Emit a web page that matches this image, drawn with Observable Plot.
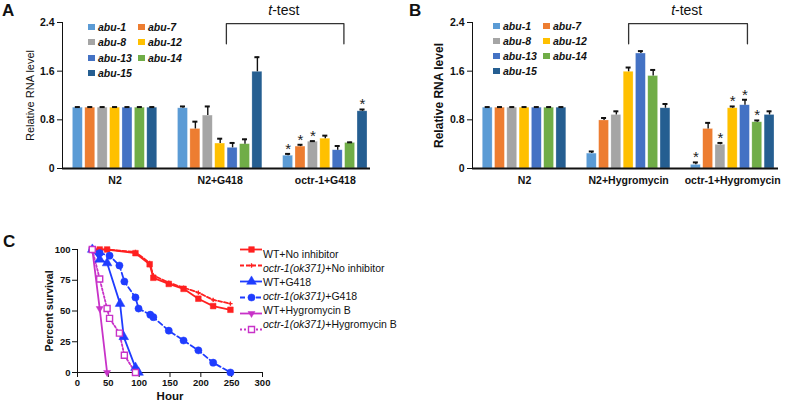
<!DOCTYPE html>
<html><head><meta charset="utf-8">
<script src="https://cdn.jsdelivr.net/npm/d3@7"></script>
<script src="https://cdn.jsdelivr.net/npm/@observablehq/plot@0.6"></script>
<style>
body{margin:0;background:#fff;}
#fig{position:relative;width:787px;height:413px;overflow:hidden;font-family:'Liberation Sans',Arial,Helvetica,sans-serif;color:#111;}
.abs{position:absolute;}
.letter{position:absolute;font-weight:bold;font-size:17px;line-height:1;}
.leg{position:absolute;font-weight:bold;font-style:italic;font-size:10.5px;white-space:nowrap;display:flex;align-items:center;height:15px;}
.sw{display:inline-block;width:7px;height:6px;margin-right:3px;}
.cleg{position:absolute;font-size:10.5px;line-height:14px;white-space:nowrap;}
svg{overflow:visible;}
</style></head>
<body><div id="fig"></div>
<script>
// ---------- data ----------
const genes = ["abu-1","abu-7","abu-8","abu-12","abu-13","abu-14","abu-15"];
const geneColors = ["#5B9BD5","#ED7D31","#A5A5A5","#FFC000","#4472C4","#70AD47","#255E91"];

const groupsA = ["N2","N2+G418","octr-1+G418"];
const levelsA_N2   = [1.00,1.00,1.00,1.00,1.00,1.00,1.00];
const errA_N2      = [0.01,0.01,0.01,0.01,0.01,0.01,0.01];
const levelsA_G418 = [0.99,0.65,0.87,0.41,0.34,0.40,1.59];
const errA_G418    = [0.03,0.12,0.15,0.08,0.08,0.08,0.24];
const levelsA_octr = [0.21,0.36,0.44,0.49,0.30,0.42,0.94];
const errA_octr    = [0.03,0.03,0.01,0.05,0.07,0.01,0.03];
const starsA_octr  = [1,1,1,0,0,0,1];

const groupsB = ["N2","N2+Hygromycin","octr-1+Hygromycin"];
const levelsB_N2   = [1.00,1.00,1.00,1.00,1.00,1.00,1.00];
const errB_N2      = [0.01,0.01,0.01,0.01,0.01,0.01,0.01];
const levelsB_Hyg  = [0.245,0.79,0.88,1.59,1.89,1.52,0.99];
const errB_Hyg     = [0.035,0.04,0.06,0.07,0.04,0.10,0.07];
const levelsB_octr = [0.06,0.65,0.39,0.99,1.04,0.76,0.88];
const errB_octr    = [0.04,0.10,0.03,0.03,0.09,0.03,0.06];
const starsB_octr  = [1,0,1,1,1,1,0];

const yTicksRNA = [0, 0.8, 1.6, 2.4];
const yTickLabelsRNA = ["0","0.8","1.6","2.4"];

const seriesC = ["WT+No inhibitor","octr-1(ok371)+No inhibitor","WT+G418","octr-1(ok371)+G418","WT+Hygromycin B","octr-1(ok371)+Hygromycin B"];
const hoursC = [
  [24,36,48,94,117,123,148,172,196,220,248],
  [24,36,48,94,117,123,148,172,196,220,248],
  [24,36,48,69,75,94,99],
  [24,36,52,68,76,94,99,118,123,148,172,196,220,248],
  [24,36,48],
  [24,36,48,52,68,76,94]
];
const survivalC = [
  [100,100,100,97,88,77,72,68,60,54,51],
  [100,100,100,98,89,79,73,69,65,59,56],
  [100,92,89,56,29,4,0],
  [100,97,95,87,74,61,52,47,45,34,26,18,8,0],
  [100,52,0],
  [100,76,52,44,32,14,0]
];
const xTicksC = [0,50,100,150,200,250,300];
const yTicksC = [0,25,50,75,100];

// ---------- styles ----------
const FONT = "'Liberation Sans',Arial,Helvetica,sans-serif";
const STEP = 0.118, BW = 0.095, CAP = 0.024;
const fig = document.getElementById("fig");

function rowsFor(groups, levels, errs, stars) {
  const rows = [];
  groups.forEach((g, gi) => genes.forEach((gene, k) => rows.push({
    group: g, gene, color: geneColors[k], value: levels[gi][k], err: errs[gi][k],
    star: stars[gi][k] === 1, xc: gi + (k - 3) * STEP
  })));
  return rows;
}

function barPanel(o) {
  const rows = rowsFor(o.groups, o.levels, o.errs, o.stars);
  const br = o.bracket;
  const bx1 = br.fromGroup + (br.fromGene - 3) * STEP;
  const bx2 = br.toGroup + (br.toGene - 3) * STEP;
  const bracketPts = [{x: bx1, y: br.low}, {x: bx1, y: br.high}, {x: bx2, y: br.high}, {x: bx2, y: br.low}];
  return Plot.plot({
    width: o.width, height: 200,
    marginLeft: o.ml, marginRight: o.mr, marginTop: 22, marginBottom: 32,
    style: {fontFamily: FONT, fontSize: "10.5px", fontWeight: "bold", color: "#111", background: "transparent", overflow: "visible"},
    color: {type: "identity"},
    x: {domain: o.xdomain, ticks: [0,1,2], tickFormat: i => o.groups[i], tickSize: 0, tickPadding: 8, label: null},
    y: {domain: [0, 2.4], ticks: yTicksRNA, tickFormat: d => yTickLabelsRNA[yTicksRNA.indexOf(d)], tickSize: 5, tickPadding: 3, label: null, line: true},
    marks: [
      Plot.rectY(rows, {x1: d => d.xc - BW/2, x2: d => d.xc + BW/2, y1: 0, y2: "value", fill: "color", stroke: "white", strokeOpacity: 0.45, strokeWidth: 0.6}),
      Plot.ruleX(rows, {x: "xc", y1: "value", y2: d => d.value + d.err, stroke: "#111", strokeWidth: 1.4}),
      Plot.ruleY(rows, {y: d => d.value + d.err, x1: d => d.xc - CAP, x2: d => d.xc + CAP, stroke: "#111", strokeWidth: 2}),
      Plot.text(rows.filter(d => d.star), {x: "xc", y: d => d.value + d.err, text: () => "*", dy: -5, fontSize: 15, fontWeight: "normal", fill: "#222"}),
      Plot.ruleY([0], {stroke: "#111", strokeWidth: 2}),
      Plot.line(bracketPts, {x: "x", y: "y", stroke: "#333", strokeWidth: 1.3}),
      Plot.text([br], {x: (bx1 + bx2) / 2, y: br.labelY, text: () => "t", fontStyle: "italic", fontWeight: "normal", fontSize: 14, textAnchor: "end", dx: -13}),
      Plot.text([br], {x: (bx1 + bx2) / 2, y: br.labelY, text: () => "-test", fontWeight: "normal", fontSize: 14, textAnchor: "start", dx: -13}),
      Plot.text([o.ylabel], {frameAnchor: "left", textAnchor: "middle", lineAnchor: "middle", text: d => d, rotate: -90, dx: o.ylabelDx, fontSize: o.ylabelSize, fontWeight: o.ylabelWeight})
    ]
  });
}

function place(el, left, top) {
  const d = document.createElement("div");
  d.className = "abs"; d.style.left = left + "px"; d.style.top = top + "px";
  d.appendChild(el); fig.appendChild(d); return d;
}
function letter(t, left, top) {
  const d = document.createElement("div");
  d.className = "letter"; d.textContent = t; d.style.left = left + "px"; d.style.top = top + "px";
  fig.appendChild(d);
}
function geneLegend(x0, x1, y0, dy) {
  genes.forEach((g, i) => {
    const d = document.createElement("div");
    d.className = "leg";
    d.style.left = (i % 2 ? x1 : x0) + "px";
    d.style.top = (y0 + Math.floor(i / 2) * dy - 7.5) + "px";
    const s = document.createElement("span"); s.className = "sw"; s.style.background = geneColors[i];
    d.appendChild(s); d.appendChild(document.createTextNode(g));
    fig.appendChild(d);
  });
}

// ---------- Panel A ----------
place(barPanel({
  groups: groupsA, width: 390, ml: 62, mr: 20, xdomain: [-0.5, 2.43],
  levels: [levelsA_N2, levelsA_G418, levelsA_octr],
  errs: [errA_N2, errA_G418, errA_octr],
  stars: [[0,0,0,0,0,0,0],[0,0,0,0,0,0,0], starsA_octr],
  bracket: {fromGroup: 1, fromGene: 3.5, toGroup: 2, toGene: 4.5, high: 2.38, low: 2.05, labelY: 2.6},
  ylabel: "Relative RNA level", ylabelDx: -32, ylabelSize: 11, ylabelWeight: "normal"
}), 0, 0);
letter("A", 2, 2);
geneLegend(88, 138, 27, 15.3);

// ---------- Panel B ----------
place(barPanel({
  groups: groupsB, width: 387, ml: 72, mr: 9, xdomain: [-0.5, 2.44],
  levels: [levelsB_N2, levelsB_Hyg, levelsB_octr],
  errs: [errB_N2, errB_Hyg, errB_octr],
  stars: [[0,0,0,0,0,0,0],[0,0,0,0,0,0,0], starsB_octr],
  bracket: {fromGroup: 1, fromGene: 3, toGroup: 2, toGene: 4.2, high: 2.38, low: 2.05, labelY: 2.6},
  ylabel: "Relative RNA level", ylabelDx: -33, ylabelSize: 12, ylabelWeight: "bold"
}), 400, 0);
letter("B", 409, 2);
geneLegend(493, 543, 26, 15);

// ---------- Panel C ----------
const RED = "#ff2020", BLUE = "#1f3cff", MAG = "#c832c8";
const triangleDown = {draw(ctx, size) {
  const y = -Math.sqrt(size / (Math.sqrt(3) * 3));
  ctx.moveTo(0, -2 * y); ctx.lineTo(-Math.sqrt(3) * y, y); ctx.lineTo(Math.sqrt(3) * y, y); ctx.closePath();
}};
const seriesStyle = [
  {stroke: RED,  dash: null,  symbol: "square",   fill: RED,   r: 3.2, sw: 0.5},
  {stroke: RED,  dash: "4,2", symbol: "plus",     fill: "none", r: 1.5, sw: 1.3},
  {stroke: BLUE, dash: null,  symbol: "triangle", fill: BLUE,  r: 3.6, sw: 0.5},
  {stroke: BLUE, dash: "5,3", symbol: "circle",   fill: BLUE,  r: 3.6, sw: 0.5},
  {stroke: MAG,  dash: null,  symbol: triangleDown, fill: MAG, r: 2.6, sw: 0.5},
  {stroke: MAG,  dash: "2,2", symbol: "square",   fill: "white", r: 3.4, sw: 1.4}
];
const ptsC = seriesC.map((name, i) => hoursC[i].map((h, j) => ({name, h, s: survivalC[i][j]})));
const cMarks = [];
ptsC.forEach((pts, i) => {
  const st = seriesStyle[i];
  cMarks.push(Plot.line(pts, {x: "h", y: "s", stroke: st.stroke, strokeWidth: 1.8, strokeDasharray: st.dash}));
});
ptsC.forEach((pts, i) => {
  const st = seriesStyle[i];
  cMarks.push(Plot.dot(pts, {x: "h", y: "s", symbol: st.symbol, r: st.r, fill: st.fill, stroke: st.stroke, strokeWidth: st.sw}));
});
cMarks.push(Plot.text(["Hour"], {frameAnchor: "bottom", textAnchor: "middle", lineAnchor: "middle", text: d => d, dy: 24, fontSize: 11.5, fontWeight: "bold"}));
cMarks.push(Plot.text(["Percent survival"], {frameAnchor: "left", textAnchor: "middle", lineAnchor: "middle", text: d => d, rotate: -90, dx: -28, fontSize: 10.5, fontWeight: "bold"}));
place(Plot.plot({
  width: 400, height: 183, marginLeft: 77, marginRight: 138, marginTop: 19, marginBottom: 41,
  style: {fontFamily: FONT, fontSize: "9.5px", fontWeight: "bold", color: "#111", background: "transparent", overflow: "visible"},
  x: {domain: [0, 300], ticks: xTicksC, tickSize: 5, tickPadding: 2, label: null, line: true},
  y: {domain: [0, 100], ticks: yTicksC, tickSize: 5, tickPadding: 2, label: null, line: true},
  marks: cMarks
}), 0, 230);
letter("C", 3, 233);

// legend for C: sample lines through Plot, labels as HTML text
const legMarks = [];
seriesC.forEach((name, i) => {
  const st = seriesStyle[i];
  legMarks.push(Plot.ruleY([name], {y: d => d, x1: 0, x2: 1, stroke: st.stroke, strokeWidth: 1.8, strokeDasharray: st.dash}));
  legMarks.push(Plot.dot([name], {y: d => d, x: 0.5, symbol: st.symbol, r: st.r, fill: st.fill, stroke: st.stroke, strokeWidth: st.sw}));
});
place(Plot.plot({
  width: 22, height: 84, margin: 0,
  x: {domain: [0, 1], axis: null}, y: {domain: seriesC, axis: null, padding: 0},
  style: {background: "transparent", overflow: "visible"},
  marks: legMarks
}), 240, 247);
const cl = document.createElement("div");
cl.className = "cleg"; cl.style.left = "263px"; cl.style.top = "247px";
cl.innerHTML = seriesC.map(n => {
  const m = n.match(/^(octr-1\(ok371\))(.*)$/);
  return "<div>" + (m ? "<i>" + m[1] + "</i>" + m[2] : n) + "</div>";
}).join("");
fig.appendChild(cl);
</script>
</body></html>
